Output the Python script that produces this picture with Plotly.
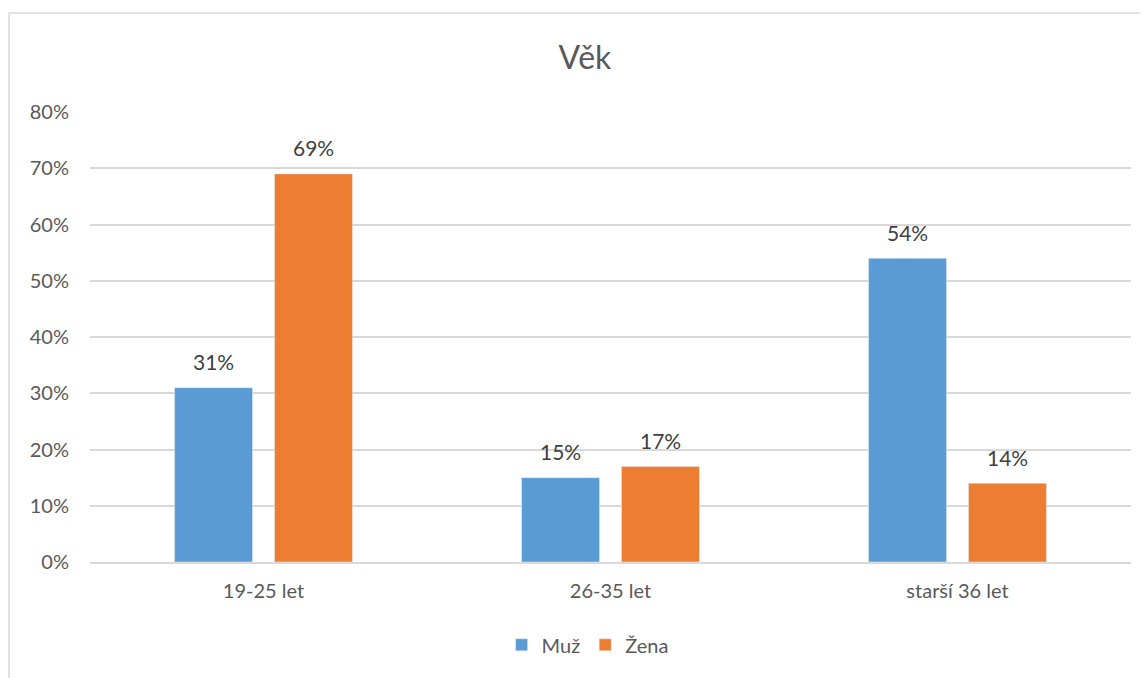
import plotly.graph_objects as go

categories = ["19-25 let", "26-35 let", "starší 36 let"]
muz = [0.31, 0.15, 0.54]
zena = [0.69, 0.17, 0.14]
tick_vals = [0, 0.1, 0.2, 0.3, 0.4, 0.5, 0.6, 0.7, 0.8]

FONT = "Lato, 'Open Sans', sans-serif"
BLUE = "#5B9BD5"
ORANGE = "#ED7D31"

fig = go.Figure()
fig.add_trace(go.Bar(name="Muž", x=categories, y=muz, marker_color=BLUE))
fig.add_trace(go.Bar(name="Žena", x=categories, y=zena, marker_color=ORANGE))

annotations = []
for series, shift in ((muz, -50), (zena, 50)):
    for c, v in zip(categories, series):
        annotations.append(dict(
            x=c, y=v, xref="x", yref="y", text=f"{v:.0%}", showarrow=False,
            xshift=shift, yshift=26, yanchor="middle",
            font=dict(size=21, color="#404040", family=FONT),
        ))

fig.update_layout(
    width=1148, height=678,
    paper_bgcolor="white", plot_bgcolor="white",
    font=dict(family=FONT, color="#595959", size=20),
    title=dict(text="Věk", x=0.5026, xanchor="center", y=0.926, yanchor="middle",
               font=dict(size=32, color="#595959", family=FONT)),
    margin=dict(l=82, r=25, t=104, b=124),
    barmode="group", bargap=0.424, bargroupgap=0.22,
    showlegend=True,
    legend=dict(orientation="h", x=0.478, xanchor="center", y=-0.184, yanchor="middle",
                font=dict(size=20, color="#595959", family=FONT), traceorder="normal"),
    xaxis=dict(showgrid=False, showline=True, linecolor="#D9D9D9", linewidth=1.5,
               ticks="", ticklabelstandoff=10, tickfont=dict(size=20, color="#595959")),
    yaxis=dict(range=[0, 0.8], tickvals=tick_vals, tickformat=".0%",
               showgrid=True, gridcolor="#D9D9D9", gridwidth=1.5, zeroline=False,
               showline=False, ticks="", ticklabelstandoff=20,
               tickfont=dict(size=20, color="#595959")),
    annotations=annotations,
    shapes=[dict(type="rect", xref="paper", yref="paper", x0=-0.0778, x1=1.05,
                 y0=-0.35, y1=1.22, line=dict(color="#D9D9D9", width=1.5),
                 fillcolor="rgba(0,0,0,0)", layer="below")],
)
fig.write_html("out.html")
